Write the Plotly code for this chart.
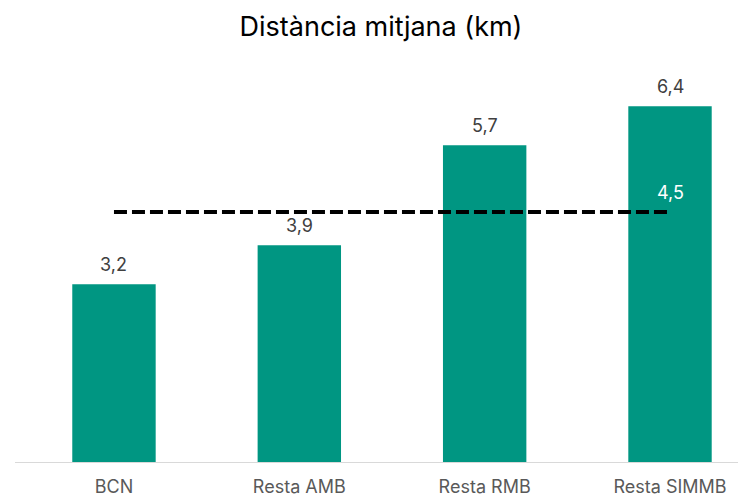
import plotly.graph_objects as go

categories = ["BCN", "Resta AMB", "Resta RMB", "Resta SIMMB"]
values = [3.2, 3.9, 5.7, 6.4]
average_value = 4.5
average_label = "4,5"

def fmt(v):
    return f"{v:.1f}".replace(".", ",")

FONT = "Inter"

fig = go.Figure()
fig.add_trace(go.Bar(
    x=categories, y=values,
    marker=dict(color="#009682", line=dict(width=0)),
    width=0.45,
    hoverinfo="skip",
))
fig.add_trace(go.Scatter(
    x=[categories[0], categories[-1]], y=[average_value, average_value],
    mode="lines",
    line=dict(color="black", width=4, dash="13px,5px"),
    cliponaxis=False,
    hoverinfo="skip",
))
for c, v in zip(categories, values):
    fig.add_annotation(x=c, y=v, text=fmt(v), showarrow=False, yanchor="bottom", yshift=7,
                       font=dict(family=FONT, size=18, color="#404040"))
fig.add_annotation(x=categories[-1], y=average_value, text=average_label, showarrow=False,
                   yanchor="bottom", yshift=7, font=dict(family=FONT, size=18, color="white"))
fig.update_layout(
    width=746, height=496,
    margin=dict(l=7, r=8, t=65, b=42),
    paper_bgcolor="white", plot_bgcolor="white",
    showlegend=False,
    title=dict(text="Distància mitjana (km)", x=0.5, xanchor="center", y=0.962, yanchor="middle",
               font=dict(family=FONT, size=27, color="black")),
    xaxis=dict(range=[-0.534, 3.41], showgrid=False, showline=True, linecolor="#d9d9d9", linewidth=1,
               ticks="", ticklabelstandoff=8,
               tickfont=dict(family=FONT, size=18, color="#595959")),
    yaxis=dict(range=[0, 7], visible=False),
    bargap=0.55,
)
fig.write_html("out.html")
